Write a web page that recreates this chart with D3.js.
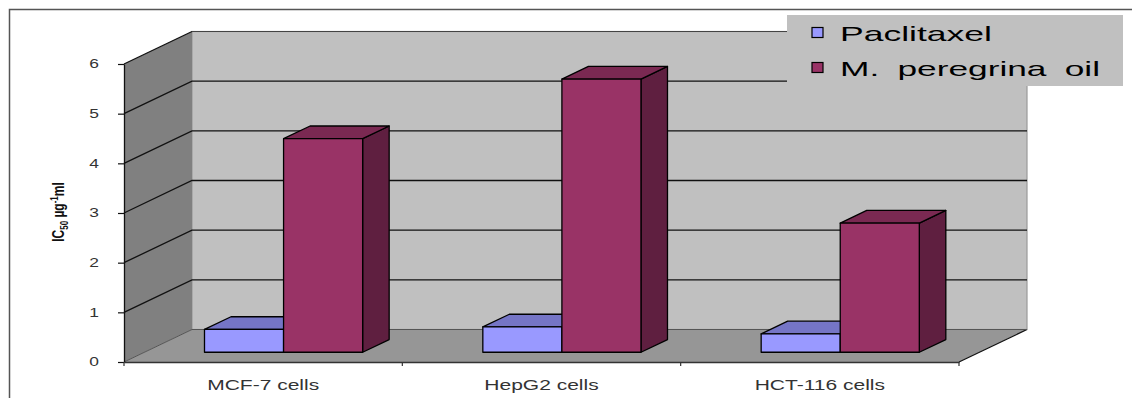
<!DOCTYPE html>
<html>
<head>
<meta charset="utf-8">
<script src="https://cdn.jsdelivr.net/npm/d3@7"></script>
<style>
  html, body { margin: 0; padding: 0; background: #fff; }
  svg { display: block; font-family: "Liberation Sans", Arial, sans-serif; }
</style>
</head>
<body>
<svg id="chart" width="1132" height="398"></svg>
<script>
// IC50 values (µg/ml) per cell line
const categories = ["MCF-7 cells", "HepG2 cells", "HCT-116 cells"];
const seriesNames = ["Paclitaxel", "M. peregrina oil"];
const paclitaxel = [0.46, 0.51, 0.37];
const peregrinaOil = [4.3, 5.5, 2.6];
const yTicks = [0, 1, 2, 3, 4, 5, 6];

const seriesValues = [paclitaxel, peregrinaOil];
const faceColors = [
  { front: "#9999FF", top: "#7575C6", side: "#5C5CA0" },
  { front: "#993366", top: "#7A2952", side: "#5F1F40" }
];

const svg = d3.select("#chart");

// 3D box depth: offset of the back plane relative to the front plane
const DX = 68, DY = 32.5;
const z0 = 0.3, z1 = 0.69; // bar depth range within the box

const y = d3.scaleLinear().domain([0, 6]).range([362, 64]);
const x = d3.scaleBand().domain(categories).range([124, 959]);
const xs = d3.scaleBand().domain(seriesNames).range([0, x.bandwidth()]).paddingOuter(0.76);

const X0 = x.range()[0], X1 = x.range()[1];

// horizontal stretch applied to text, via textLength
function stretch(sel, k) {
  sel.each(function () {
    const w = this.getComputedTextLength();
    d3.select(this).attr("textLength", w * k).attr("lengthAdjust", "spacingAndGlyphs");
  });
}

// outer frame
svg.append("path")
  .attr("d", `M9.5,398 V9.5 H1132`)
  .attr("fill", "none").attr("stroke", "#555").attr("stroke-width", 1.5);

// back wall
svg.append("rect")
  .attr("x", X0 + DX).attr("y", y(6) - DY)
  .attr("width", X1 - X0).attr("height", y(0) - y(6))
  .attr("fill", "#C0C0C0").attr("stroke", "#9a9a9a").attr("stroke-width", 1.2);

// left wall
svg.append("polygon")
  .attr("points", [[X0, y(0)], [X0, y(6)], [X0 + DX, y(6) - DY], [X0 + DX, y(0) - DY]].join(" "))
  .attr("fill", "#808080");

// floor
svg.append("polygon")
  .attr("points", [[X0, y(0)], [X1, y(0)], [X1 + DX, y(0) - DY], [X0 + DX, y(0) - DY]].join(" "))
  .attr("fill", "#969696");

// floor edges
svg.append("path")
  .attr("d", `M${X1},${y(0)} L${X1 + DX},${y(0) - DY}`)
  .attr("stroke", "#111").attr("stroke-width", 1.2).attr("fill", "none");
svg.append("path")
  .attr("d", `M${X0},${y(0)} L${X0 + DX},${y(0) - DY} H${X1 + DX}`)
  .attr("stroke", "#555").attr("stroke-width", 1).attr("fill", "none");

// gridlines on left and back walls
const grid = svg.append("g").attr("fill", "none").attr("stroke", "#111").attr("stroke-width", 1.3);
yTicks.filter(v => v > 0).forEach(v => {
  grid.append("path")
    .attr("d", `M${X0},${y(v)} L${X0 + DX},${y(v) - DY}` + (v < 6 ? ` H${X1 + DX}` : ""));
});
// top edge of back wall
svg.append("path")
  .attr("d", `M${X0 + DX},${y(6) - DY} H${X1 + DX}`)
  .attr("stroke", "#444").attr("stroke-width", 1.2).attr("fill", "none");

// bars
const bars = svg.append("g");
categories.forEach((cat, i) => {
  seriesNames.forEach((s, j) => {
    const v = seriesValues[j][i];
    const c = faceColors[j];
    const bx = x(cat) + xs(s) + DX * z0;
    const bw = xs.bandwidth();
    const yb = y(0) - DY * z0;
    const yt = y(v) - DY * z0;
    const ddx = DX * (z1 - z0), ddy = DY * (z1 - z0);
    const g = bars.append("g").attr("stroke", "#000").attr("stroke-width", 1.3).attr("stroke-linejoin", "round");
    g.append("polygon")
      .attr("points", [[bx + bw, yt], [bx + bw + ddx, yt - ddy], [bx + bw + ddx, yb - ddy], [bx + bw, yb]].join(" "))
      .attr("fill", c.side);
    g.append("polygon")
      .attr("points", [[bx, yt], [bx + bw, yt], [bx + bw + ddx, yt - ddy], [bx + ddx, yt - ddy]].join(" "))
      .attr("fill", c.top);
    g.append("rect")
      .attr("x", bx).attr("y", yt).attr("width", bw).attr("height", yb - yt)
      .attr("fill", c.front);
  });
});

// y axis
const yAxis = svg.append("g")
  .attr("transform", `translate(${X0},0)`)
  .call(d3.axisLeft(y).tickValues(yTicks).tickFormat(d3.format("d")).tickSize(6).tickSizeOuter(0).tickPadding(19));
yAxis.select(".domain").attr("stroke", "#111").attr("stroke-width", 1.3);
yAxis.selectAll(".tick line").attr("stroke", "#111").attr("stroke-width", 1.2);
yAxis.selectAll(".tick text")
  .attr("font-size", 12).attr("fill", "#333").attr("font-family", "Liberation Sans, Arial, sans-serif")
  .call(stretch, 1.45);

// x axis: baseline with ticks at category boundaries
const xAxis = svg.append("g")
  .attr("transform", `translate(0,${y(0)})`)
  .call(d3.axisBottom(x).tickSize(0).tickPadding(18));
xAxis.select(".domain").attr("stroke", "#333").attr("stroke-width", 1.4);
xAxis.selectAll(".tick text")
  .attr("font-size", 14).attr("fill", "#333").attr("font-family", "Liberation Sans, Arial, sans-serif")
  .call(stretch, 1.5);
const bounds = categories.map(c => x(c)).concat([X1]);
xAxis.selectAll(".bound").data(bounds).join("line")
  .attr("class", "bound")
  .attr("x1", d => d).attr("x2", d => d)
  .attr("y1", 0).attr("y2", 4)
  .attr("stroke", "#333").attr("stroke-width", 1.2);

// y axis title (glyphs widened horizontally like the rest of the text)
const yTitle = svg.append("text")
  .attr("transform", "translate(64,212) scale(1.45,1) rotate(-90)")
  .attr("text-anchor", "middle")
  .attr("font-size", 12).attr("font-weight", "bold").attr("fill", "#111");
yTitle.append("tspan").text("IC");
yTitle.append("tspan").attr("font-size", 8).attr("dy", 3).text("50");
yTitle.append("tspan").attr("dy", -3).text(" µg");
yTitle.append("tspan").attr("font-size", 8).attr("dy", -4).text("-1");
yTitle.append("tspan").attr("dy", 4).text("ml");

// legend
const legend = svg.append("g");
legend.append("rect")
  .attr("x", 787).attr("y", 15).attr("width", 336).attr("height", 71)
  .attr("fill", "#C0C0C0");
const legendBase = [41, 76];
const legendWidth = [152, 260];
seriesNames.forEach((s, j) => {
  legend.append("rect")
    .attr("x", 812).attr("y", legendBase[j] - 13.5).attr("width", 11).attr("height", 10)
    .attr("fill", faceColors[j].front).attr("stroke", "#000").attr("stroke-width", 1.2);
  legend.append("text")
    .attr("x", 840).attr("y", legendBase[j])
    .attr("font-size", 21).attr("fill", "#000")
    .attr("word-spacing", 5)
    .attr("textLength", legendWidth[j]).attr("lengthAdjust", "spacingAndGlyphs")
    .text(s);
});
</script>
</body>
</html>
